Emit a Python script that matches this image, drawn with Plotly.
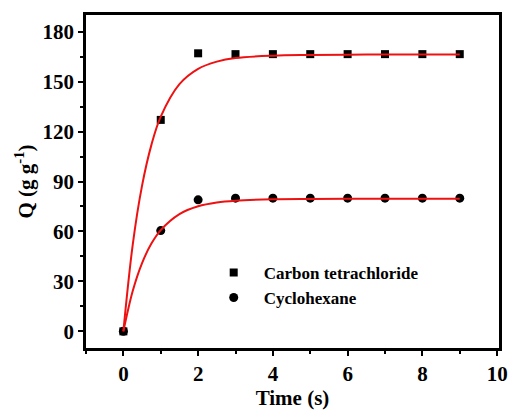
import plotly.graph_objects as go

# Measured data
time_pts = [0, 1, 2, 3, 4, 5, 6, 7, 8, 9]
q_ccl4 = [0, 127, 167, 166.5, 166.5, 166.5, 166.5, 166.5, 166.5, 166.5]
q_chx = [0, 60.5, 79, 80, 80, 80, 80, 80, 80, 80]

# Fitted curves
fit_t = [0, 0.25, 0.5, 0.75, 1, 1.5, 2, 2.5, 3, 4, 5, 6, 7, 8, 9]
fit_ccl4 = [0, 52, 87.5, 112, 129, 148.5, 157.7, 162, 164.2, 165.6, 166, 166.2, 166.3, 166.3, 166.3]
fit_chx = [0, 24.2, 41, 52.7, 60.8, 70.4, 75.1, 77.4, 78.5, 79.3, 79.5, 79.6, 79.6, 79.6, 79.6]

font_family = "Liberation Serif"

fig = go.Figure()
fig.add_trace(go.Scatter(x=time_pts, y=q_ccl4, mode="markers", name="<b>Carbon tetrachloride</b>",
                         marker=dict(symbol="square", size=8, color="black")))
fig.add_trace(go.Scatter(x=time_pts, y=q_chx, mode="markers", name="<b>Cyclohexane</b>",
                         marker=dict(symbol="circle", size=9, color="black")))
fig.add_trace(go.Scatter(x=fit_t, y=fit_ccl4, mode="lines", line=dict(color="#ee1111", width=2, shape="spline"),
                         showlegend=False))
fig.add_trace(go.Scatter(x=fit_t, y=fit_chx, mode="lines", line=dict(color="#ee1111", width=2, shape="spline"),
                         showlegend=False))

axis_common = dict(showline=True, linecolor="black", linewidth=2.5, mirror=True, ticks="outside",
                   tickwidth=2, ticklen=5, tickcolor="black", showgrid=False, zeroline=False,
                   tickfont=dict(family=font_family, size=21, color="black"))

fig.update_xaxes(range=[-1, 10.05], tickvals=[0, 2, 4, 6, 8, 10], ticktext=["<b>%d</b>" % v for v in [0, 2, 4, 6, 8, 10]],
                 minor=dict(tickvals=[-1, 1, 3, 5, 7, 9], ticklen=3, tickwidth=2, tickcolor="black", ticks="outside"),
                 title=dict(text="<b>Time (s)</b>", font=dict(family=font_family, size=21, color="black"), standoff=6),
                 **axis_common)
fig.update_yaxes(range=[-10, 190], tickvals=[0, 30, 60, 90, 120, 150, 180],
                 ticktext=["<b>%d</b>" % v for v in [0, 30, 60, 90, 120, 150, 180]],
                 minor=dict(tickvals=[15, 45, 75, 105, 135, 165], ticklen=3, tickwidth=2, tickcolor="black", ticks="outside"),
                 title=dict(text="<b>Q (g g<sup>-1</sup>)</b>", font=dict(family=font_family, size=21, color="black"), standoff=4),
                 **axis_common)

fig.update_layout(width=520, height=419, margin=dict(l=86, r=15, t=13, b=68),
                  plot_bgcolor="white", paper_bgcolor="white",
                  legend=dict(x=0.285, y=0.188, xanchor="left", yanchor="middle", bgcolor="rgba(0,0,0,0)",
                              font=dict(family=font_family, size=17, color="black"), tracegroupgap=0, itemwidth=50))

fig.write_html("out.html")
